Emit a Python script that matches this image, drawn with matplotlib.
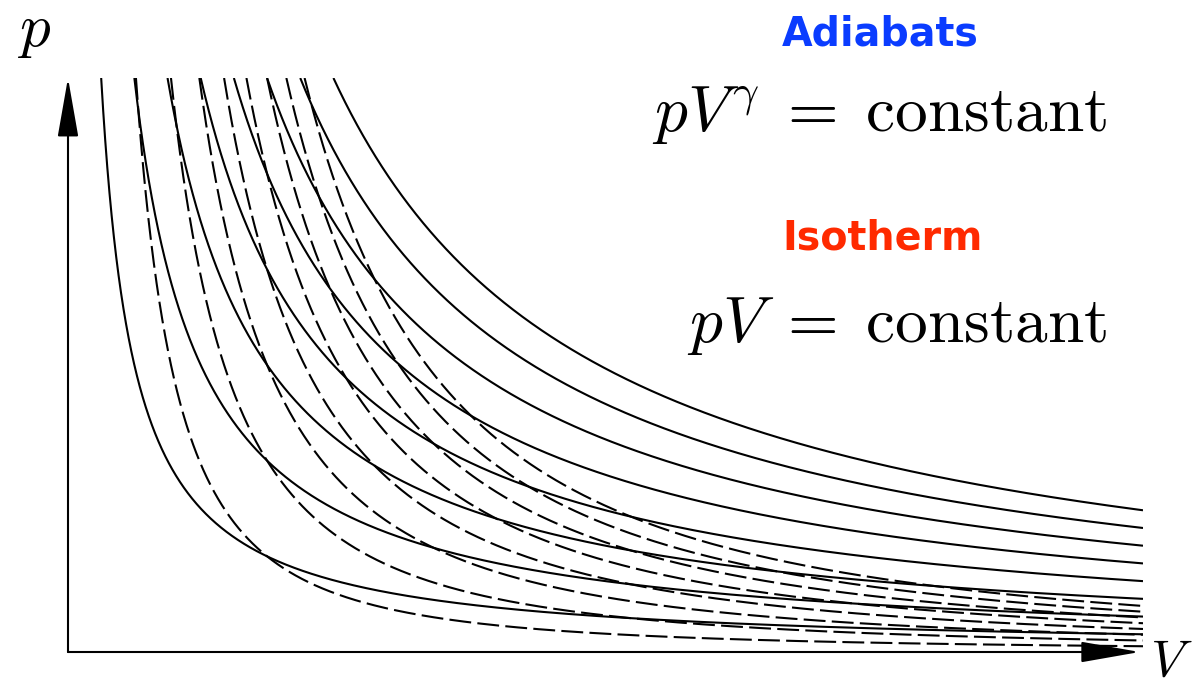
import numpy as np
import matplotlib
matplotlib.use("Agg")
import matplotlib.pyplot as plt

plt.rcParams["mathtext.fontset"] = "cm"

# Isotherms: p V = T, one curve per temperature level
isotherm_constants = [1, 2, 3, 4, 5, 6, 7, 8]
# Adiabats: p V^gamma = K, one curve per entropy level
adiabat_constants = [1, 2, 3, 4, 5, 6, 7, 8]
gamma = 5.0 / 3.0

# Plotted range of the state diagram
v_max = 5.4
p_max = 6.0

fig = plt.figure(figsize=(12.01, 6.90), dpi=100)
ax = fig.add_axes([68 / 1201, 38 / 690, 1075 / 1201, 574 / 690])
ax.set_xlim(0, v_max)
ax.set_ylim(0, p_max)
ax.axis("off")

line_kw = dict(color="black", lw=1.5, solid_capstyle="butt")

for T in isotherm_constants:
    v = np.geomspace(T / p_max, v_max, 1500)
    ax.plot(v, T / v, **line_kw)

for K in adiabat_constants:
    v = np.geomspace((K / p_max) ** (1 / gamma), v_max, 1500)
    ax.plot(v, K / v ** gamma, linestyle=(0, (10.5, 3.0)),
            dash_capstyle="butt", **line_kw)

# Coordinate axes with filled arrow heads
arrow = dict(arrowstyle="-|>,head_length=37,head_width=6.5",
             mutation_scale=1, color="black", lw=1.5,
             shrinkA=0, shrinkB=0)
ax.annotate("", xy=(0, 1.0), xytext=(0, 0), xycoords="axes fraction",
            textcoords="axes fraction", arrowprops=arrow, annotation_clip=False)
ax.annotate("", xy=(0.997, 0), xytext=(0, 0), xycoords="axes fraction",
            textcoords="axes fraction", arrowprops=arrow, annotation_clip=False)

fig.text(17 / 1201, 1 - 46 / 690, r"$p$", fontsize=44, ha="left", va="baseline")
fig.text(1150 / 1201, 3 / 690, r"$V$", fontsize=38, ha="left", va="bottom")

fig.text(880 / 1201, 1 - 45 / 690, "Adiabats", fontsize=28.5, fontweight="bold",
         color="#0a3cff", family="DejaVu Sans", ha="center", va="baseline")
fig.text(1107 / 1201, 1 - 132 / 690, r"$pV^{\gamma}\;=\;\mathrm{constant}$",
         fontsize=47, ha="right", va="baseline")
fig.text(883 / 1201, 1 - 249 / 690, "Isotherm", fontsize=28.5, fontweight="bold",
         color="#ff2a00", family="DejaVu Sans", ha="center", va="baseline")
fig.text(1107 / 1201, 1 - 342 / 690, r"$pV\;=\;\mathrm{constant}$",
         fontsize=47, ha="right", va="baseline")

fig.savefig("out.png", dpi=100)
